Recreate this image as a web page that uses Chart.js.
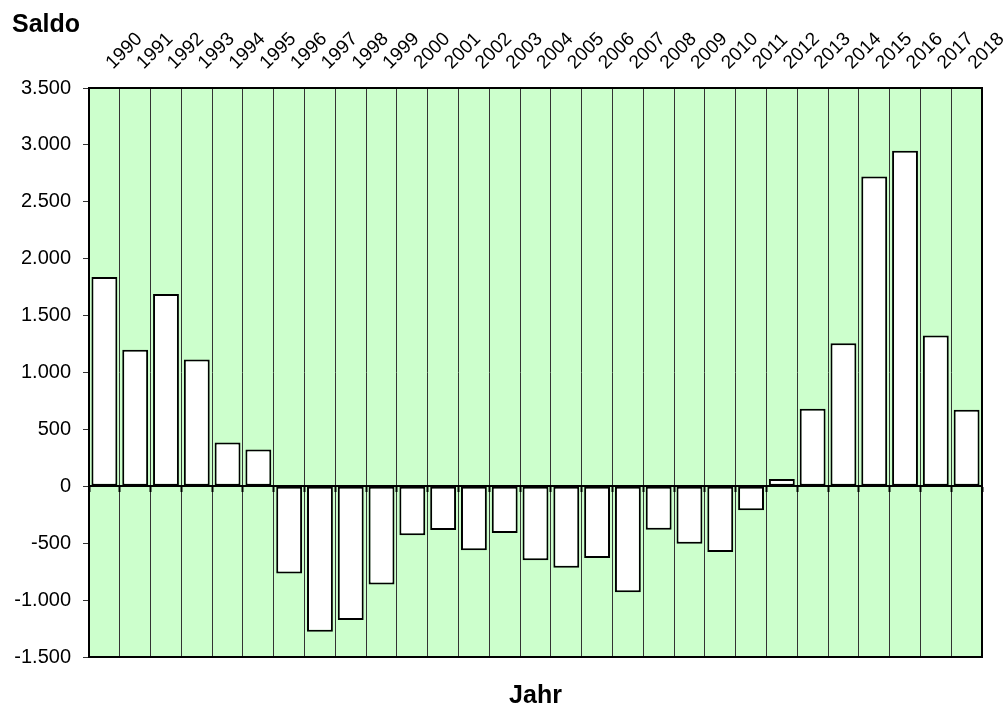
<!DOCTYPE html>
<html>
<head>
<meta charset="utf-8">
<script src="https://cdn.jsdelivr.net/npm/chart.js@4/dist/chart.umd.min.js"></script>
<style>
  html, body { margin: 0; padding: 0; background: #ffffff; }
  #wrap { width: 1006px; height: 709px; }
</style>
</head>
<body>
<div id="wrap"><canvas id="c" width="1006" height="709"></canvas></div>
<script>
const years = ['1990','1991','1992','1993','1994','1995','1996','1997','1998','1999',
  '2000','2001','2002','2003','2004','2005','2006','2007','2008','2009',
  '2010','2011','2012','2013','2014','2015','2016','2017','2018'];
const saldo = [1840, 1200, 1690, 1115, 385, 323, -766, -1279, -1175, -863,
  -431, -385, -563, -411, -649, -716, -631, -930, -381, -505,
  -578, -211, 64, 681, 1256, 2723, 2949, 1326, 672];
const yMin = -1500, yMax = 3500, yStep = 500;
const yTitle = 'Saldo';
const xTitle = 'Jahr';

const FONT = '"Liberation Sans", Arial, sans-serif';

function fmt(v) {
  const s = Math.abs(v).toString().replace(/\B(?=(\d{3})+(?!\d))/g, '.');
  return (v < 0 ? '-' : '') + s;
}
function zeroPad(scale) {
  scale.paddingLeft = 0; scale.paddingRight = 0;
  scale.paddingTop = 0; scale.paddingBottom = 0;
}

const plotFrame = {
  id: 'plotFrame',
  beforeDraw(chart) {
    const a = chart.chartArea, ctx = chart.ctx;
    ctx.save();
    ctx.fillStyle = '#CCFFCC';
    ctx.fillRect(a.left, a.top, a.right - a.left, a.bottom - a.top);
    ctx.restore();
  },
  afterDraw(chart) {
    const a = chart.chartArea, ctx = chart.ctx;
    ctx.save();
    ctx.strokeStyle = '#000';
    ctx.lineWidth = 2;
    ctx.strokeRect(a.left, a.top, a.right - a.left, a.bottom - a.top);
    // value-axis title, top left corner
    ctx.fillStyle = '#000';
    ctx.font = 'bold 25px ' + FONT;
    ctx.textAlign = 'left';
    ctx.textBaseline = 'alphabetic';
    ctx.fillText(yTitle, 12, 32);
    ctx.restore();
  }
};

new Chart(document.getElementById('c'), {
  type: 'bar',
  data: {
    labels: years,
    datasets: [{
      data: saldo,
      backgroundColor: '#ffffff',
      borderColor: '#000000',
      borderWidth: 2,
      borderSkipped: false,
      barPercentage: 0.84,
      categoryPercentage: 1.0,
      xAxisID: 'x',
      yAxisID: 'y'
    }]
  },
  options: {
    responsive: false,
    animation: false,
    events: [],
    layout: { padding: { left: 12, right: 24, top: 0, bottom: 0 } },
    plugins: {
      legend: { display: false },
      tooltip: { enabled: false },
      title: { display: false }
    },
    scales: {
      x: {
        type: 'category',
        position: 'top',
        offset: true,
        grid: {
          offset: true,
          drawOnChartArea: true,
          drawTicks: false,
          color: '#333333',
          lineWidth: 1
        },
        border: { display: false },
        ticks: {
          minRotation: 45,
          maxRotation: 45,
          autoSkip: false,
          padding: 14,
          labelOffset: 21,
          color: '#000',
          font: { family: FONT, size: 19 }
        },
        afterFit(scale) { scale.height = 88; zeroPad(scale); }
      },
      x0: {
        type: 'category',
        position: { y: 0 },
        offset: true,
        z: 1,
        grid: {
          offset: true,
          drawOnChartArea: false,
          drawTicks: true,
          tickLength: 5,
          tickWidth: 2,
          tickColor: '#000'
        },
        border: { display: true, color: '#000', width: 2 },
        ticks: { display: false },
        afterFit(scale) { zeroPad(scale); }
      },
      xb: {
        type: 'category',
        position: 'bottom',
        grid: { display: false },
        border: { display: false },
        ticks: { display: false },
        title: {
          display: true,
          text: xTitle,
          color: '#000',
          font: { family: FONT, size: 25, weight: 'bold', lineHeight: 1 },
          padding: 0
        },
        afterFit(scale) { scale.height = 52; zeroPad(scale); }
      },
      y: {
        type: 'linear',
        position: 'left',
        min: yMin,
        max: yMax,
        grid: {
          drawOnChartArea: false,
          drawTicks: true,
          tickLength: 6,
          tickColor: '#333'
        },
        border: { display: false },
        ticks: {
          stepSize: yStep,
          padding: 12,
          color: '#000',
          font: { family: FONT, size: 20 },
          callback: (v) => fmt(v)
        },
        afterFit(scale) { scale.width = 77; zeroPad(scale); }
      }
    }
  },
  plugins: [plotFrame]
});
</script>
</body>
</html>
